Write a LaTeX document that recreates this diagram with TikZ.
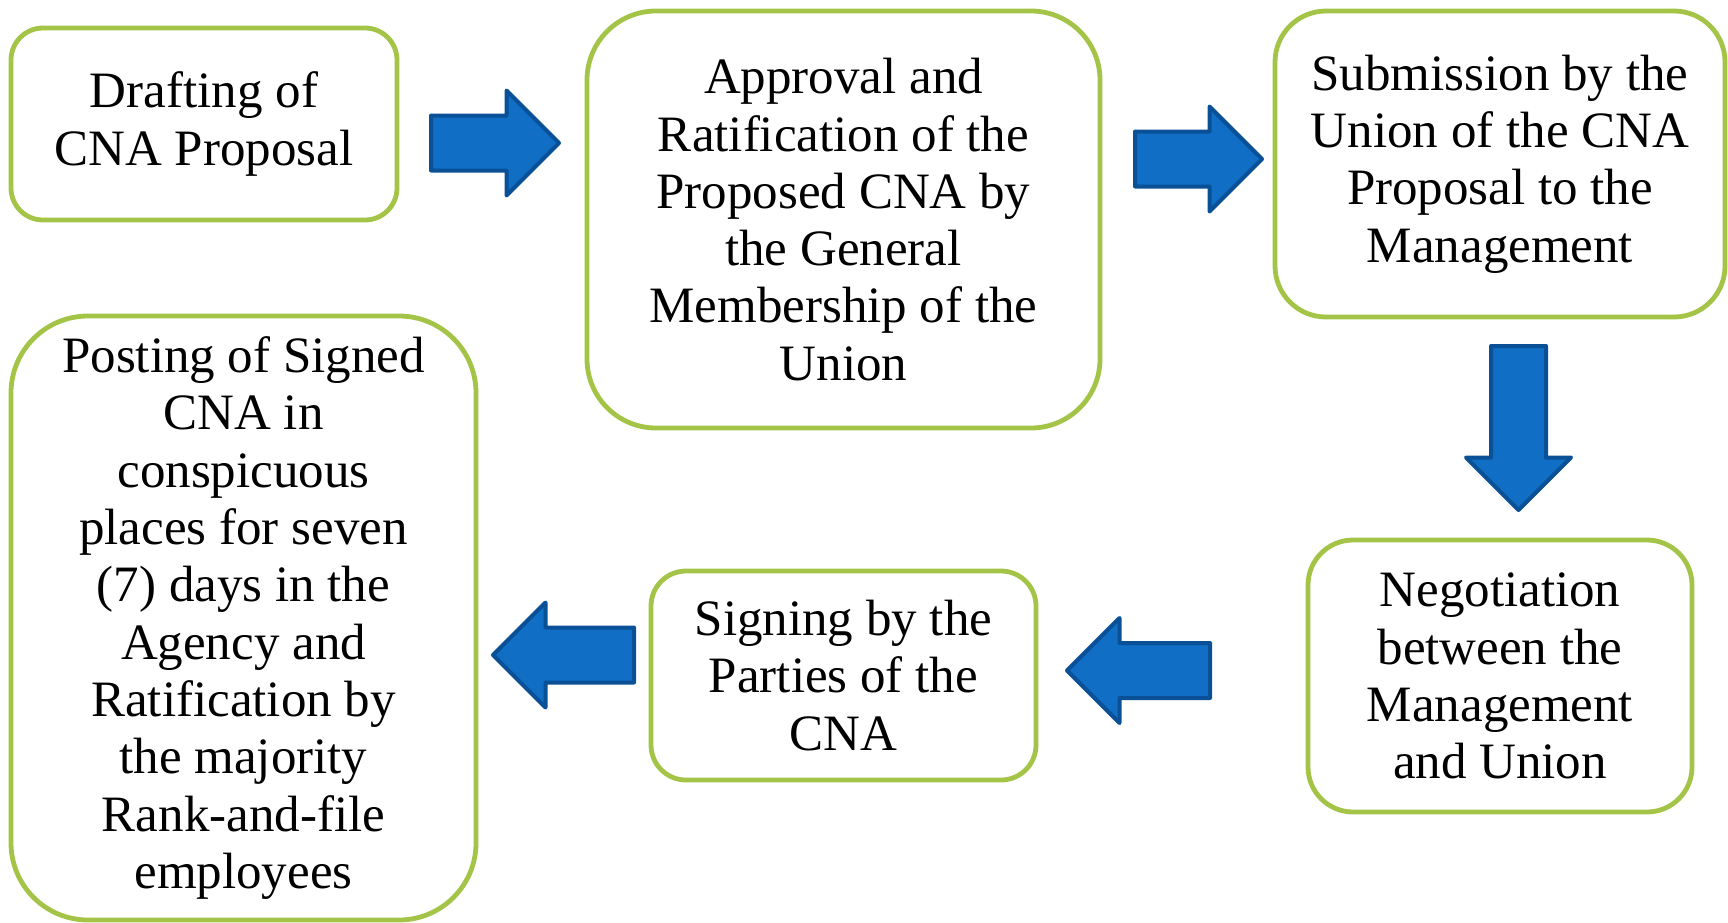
\documentclass[tikz,border=0pt]{standalone}
\usepackage{fontspec}
\setmainfont{Liberation Serif}
\usetikzlibrary{shapes.arrows}
\definecolor{boxgreen}{HTML}{A4C448}
\definecolor{arrowblue}{HTML}{106EC4}
\definecolor{arrowedge}{HTML}{0A5096}

\begin{document}
\begin{tikzpicture}
		[x=0.5pt, y=-0.5pt,
		stage/.style ={rectangle, draw=boxgreen, line width=2.4pt, fill=white, align=center, inner sep=0pt, font=\fontsize{25.5}{28.65}\selectfont},
		rarrow/.style ={single arrow, anchor=tail, draw=arrowedge, line width=2pt, line join=round, fill=arrowblue, inner xsep=0pt, inner ysep=12.75pt, single arrow head extend=12.5pt, single arrow tip angle=90}]
		\useasboundingbox (0,0) rectangle (1728,922);
		\draw (204,124) node[stage, minimum width=193pt, minimum height=96pt, rounded corners=16pt] (draft) {Drafting of\\CNA Proposal};
		\draw (843.5,219.5) node[stage, minimum width=256.5pt, minimum height=208.5pt, rounded corners=34.5pt] (approve) {Approval and\\Ratification of the\\Proposed CNA by\\the General\\Membership of the\\Union};
		\draw (1500,164) node[stage, minimum width=225pt, minimum height=153pt, rounded corners=25.5pt] (submit) {Submission by the\\Union of the CNA\\Proposal to the\\Management};
		\draw (1500,676) node[stage, minimum width=192pt, minimum height=136pt, rounded corners=22.5pt] (negotiate) {Negotiation\\between the\\Management\\and Union};
		\draw (843.5,675.5) node[stage, minimum width=192.5pt, minimum height=104.5pt, rounded corners=17.5pt] (sign) {Signing by the\\Parties of the\\CNA};
		\draw (243.5,618) node[stage, minimum width=232.5pt, minimum height=302pt, rounded corners=38.5pt] (post) {Posting of Signed\\CNA in\\conspicuous\\places for seven\\(7) days in the\\Agency and\\Ratification by\\the majority\\Rank-and-file\\employees};

		\draw (429,143) node[rarrow, minimum height=64pt] (draft-approve) {};
		\draw (1133,159) node[rarrow, minimum height=63.5pt] (approve-submit) {};
		\draw (1518.5,344) node[rarrow, minimum height=82pt, rotate=-90] (submit-negotiate) {};
		\draw (1212,670.5) node[rarrow, minimum height=71.5pt, rotate=180] (negotiate-sign) {};
		\draw (636,655) node[rarrow, minimum height=70.5pt, rotate=180] (sign-post) {};

	\end{tikzpicture}
\end{document}
